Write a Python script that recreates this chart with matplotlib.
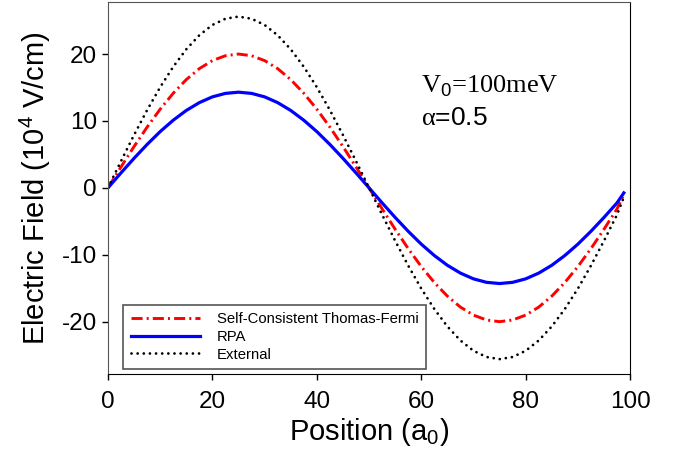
import matplotlib
matplotlib.use('Agg')
import matplotlib.pyplot as plt

plt.rcParams['font.family'] = ['Liberation Sans', 'DejaVu Sans']
plt.rcParams['mathtext.fontset'] = 'custom'
plt.rcParams['mathtext.rm'] = 'Liberation Sans'
plt.rcParams['mathtext.it'] = 'Liberation Sans:italic'
plt.rcParams['mathtext.sf'] = 'Liberation Serif'
plt.rcParams['axes.unicode_minus'] = False

# values, every 2.5 a0
position = [0, 2.5, 5, 7.5, 10, 12.5, 15, 17.5, 20, 22.5, 25,
            27.5, 30, 32.5, 35, 37.5, 40, 42.5, 45, 47.5, 50,
            52.5, 55, 57.5, 60, 62.5, 65, 67.5, 70, 72.5, 75,
            77.5, 80, 82.5, 85, 87.5, 90, 92.5, 95, 97.5, 98.8]

thomas_fermi = [0, 3.13, 6.18, 9.08, 11.76, 14.14, 16.18, 17.82, 19.02, 19.75, 20.0,
                19.75, 19.02, 17.82, 16.18, 14.14, 11.76, 9.08, 6.18, 3.13, 0,
                -3.13, -6.18, -9.08, -11.76, -14.14, -16.18, -17.82, -19.02, -19.75, -20.0,
                -19.75, -19.02, -17.82, -16.18, -14.14, -11.76, -9.08, -6.18, -3.13, -1.0]

rpa = [0, 2.24, 4.42, 6.49, 8.41, 10.11, 11.57, 12.74, 13.60, 14.12, 14.3,
       14.12, 13.60, 12.74, 11.57, 10.11, 8.41, 6.49, 4.42, 2.24, 0,
       -2.24, -4.42, -6.49, -8.41, -10.11, -11.57, -12.74, -13.60, -14.12, -14.3,
       -14.12, -13.60, -12.74, -11.57, -10.11, -8.41, -6.49, -4.42, -2.24, -0.75]

external = [0, 4.00, 7.91, 11.62, 15.05, 18.10, 20.71, 22.81, 24.35, 25.28, 25.6,
            25.28, 24.35, 22.81, 20.71, 18.10, 15.05, 11.62, 7.91, 4.00, 0,
            -4.00, -7.91, -11.62, -15.05, -18.10, -20.71, -22.81, -24.35, -25.28, -25.6,
            -25.28, -24.35, -22.81, -20.71, -18.10, -15.05, -11.62, -7.91, -4.00, -1.4]

labels = ['Self-Consistent Thomas-Fermi', 'RPA', 'External']


fig = plt.figure(figsize=(6.79, 4.65), dpi=100)
ax = fig.add_axes([0.159, 0.196, 0.769, 0.80])

ax.plot(position, thomas_fermi, color='#ff0000', lw=2.1,
        dashes=(3.8, 1.4, 0.7, 1.4), label=labels[0])
ax.plot(position, rpa, color='#0000ff', lw=2.3, label=labels[1])
ax.plot(position, external, color='black', lw=2.0,
        dashes=(0.01, 2.2), dash_capstyle='round', label=labels[2])

ax.set_xlim(0, 100)
ax.set_ylim(-27.8, 27.8)
ax.set_xticks([0, 20, 40, 60, 80, 100])
ax.set_yticks([-20, -10, 0, 10, 20])
ax.tick_params(direction='out', length=4.5, width=1, labelsize=17.5)
ax.tick_params(axis='x', pad=8)

for s in ['left', 'top']:
    ax.spines[s].set_color('#555555')
for s in ['bottom', 'right']:
    ax.spines[s].set_color('black')

ax.set_xlabel('Position (a$_0$)', fontsize=21, labelpad=2)
ax.set_ylabel('Electric Field (10$^4$ V/cm)', fontsize=21, labelpad=6)

ax.text(60, 14.2, 'V$_0$=100meV', family=['Liberation Serif', 'DejaVu Serif'],
        fontsize=19, va='baseline')
ax.text(60, 9.4, r'$\mathsf{\alpha}$=0.5', fontsize=19, va='baseline')

leg = ax.legend(loc='lower left', bbox_to_anchor=(0.029, 0.013), borderaxespad=0,
                fontsize=10.7, handlelength=4.7, handletextpad=1.1, labelspacing=0.25,
                borderpad=0.5, fancybox=False, framealpha=1)
leg.get_frame().set_edgecolor('#555555')
leg.get_frame().set_linewidth(1.2)

plt.savefig('out.png', dpi=100)
